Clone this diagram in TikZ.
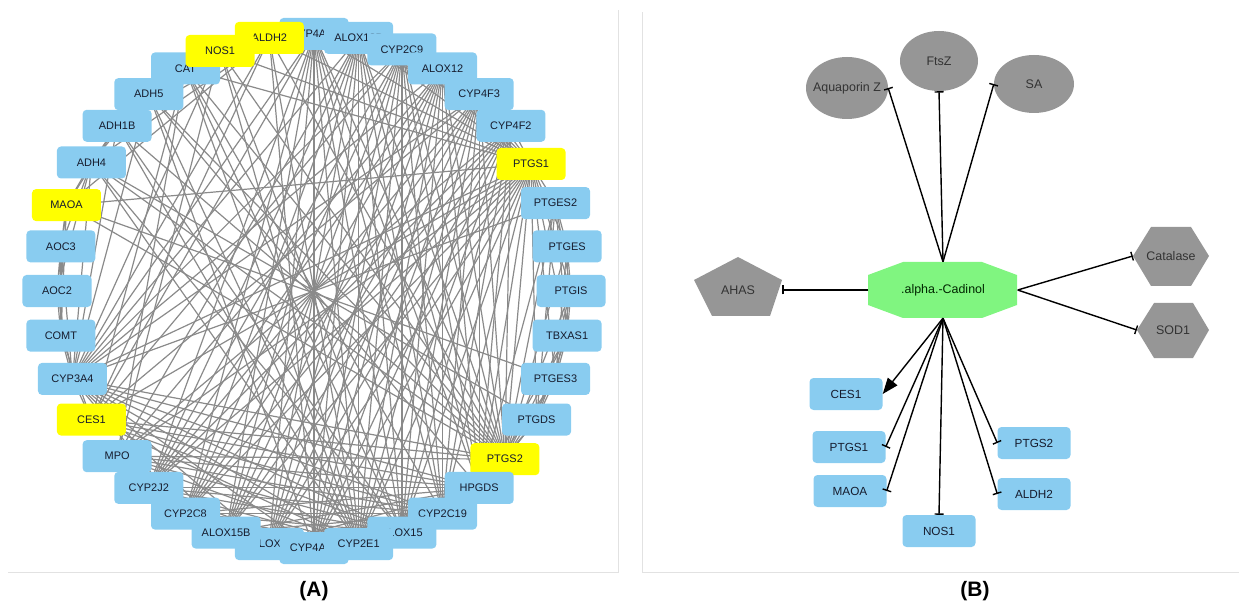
\documentclass[tikz,border=0pt]{standalone}
\usepackage{fontspec}
\setmainfont{Liberation Sans}
\setsansfont{Liberation Sans}
\usetikzlibrary{arrows.meta,backgrounds}
\definecolor{nodeblue}{RGB}{137,204,240}
\definecolor{nodeyellow}{RGB}{255,255,0}
\definecolor{edgegrey}{RGB}{138,138,138}
\definecolor{shapegrey}{RGB}{150,150,150}
\definecolor{cadgreen}{RGB}{128,245,128}
\definecolor{framegrey}{RGB}{226,226,226}
\definecolor{labtext}{RGB}{22,28,46}
\tikzset{
  gbox/.style={rectangle, rounded corners=4bp, fill=nodeblue, minimum width=69bp, minimum height=32bp, inner sep=0pt, text=labtext, font=\fontsize{11}{13}\selectfont},
  ybox/.style={gbox, fill=nodeyellow},
  bbox/.style={rectangle, rounded corners=4bp, fill=nodeblue, minimum width=73bp, minimum height=32bp, inner sep=0pt, text=labtext, font=\fontsize{11.8}{14}\selectfont},
  shapetext/.style={rectangle, inner sep=0pt, text=black!80, font=\fontsize{12.5}{15}\selectfont},
  edgeA/.style={draw=edgegrey, line width=1.2bp},
  inh/.style={draw=black, line width=1.4bp, -{Bar[width=9bp,line width=1.4bp]}},
  act/.style={draw=black, line width=1.4bp, -{Triangle[length=16bp,width=12bp]}},
  frameline/.style={draw=framegrey, line width=1bp},
  panellab/.style={font=\bfseries\fontsize{21}{24}\selectfont, inner sep=0pt}
}
\begin{document}
\begin{tikzpicture}[x=1bp,y=-1bp]
\useasboundingbox (0,0) rectangle (1239,603);

% panel frames
\draw[frameline] (8,572) -- (618,572) -- (618,10);
\draw[frameline] (642,12) -- (642,572) -- (1239,572);

% ---------- Panel A : nodes on the circle ----------
\foreach \k/\lab/\sty/\dx/\dy in {
  0/CYP4A11/gbox/0/0, 1/ALOX12B/gbox/0/0, 2/CYP2C9/gbox/0/0, 3/ALOX12/gbox/0/0,
  4/CYP4F3/gbox/0/0, 5/CYP4F2/gbox/0/0, 6/PTGS1/ybox/-5.5/1.5, 7/PTGES2/gbox/0/0,
  8/PTGES/gbox/0/0, 9/PTGIS/gbox/0/0, 10/TBXAS1/gbox/0/0, 11/PTGES3/gbox/0/0,
  12/PTGDS/gbox/0/0, 13/PTGS2/ybox/-6/3, 14/HPGDS/gbox/0/0, 15/CYP2C19/gbox/0/0,
  16/ALOX15/gbox/0/0, 19/ALOX5/gbox/0/0, 18/CYP4A22/gbox/0/0, 17/CYP2E1/gbox/0/0,
  21/CYP2C8/gbox/0/0, 20/ALOX15B/gbox/0/0, 22/CYP2J2/gbox/0/0, 23/MPO/gbox/0/0,
  24/CES1/ybox/0/0, 25/CYP3A4/gbox/0/0, 26/COMT/gbox/0/0, 27/AOC2/gbox/0/0,
  28/AOC3/gbox/0/0, 29/MAOA/ybox/-6/2, 30/ADH4/gbox/0/0, 31/ADH1B/gbox/0/0,
  32/ADH5/gbox/0/0, 33/CAT/gbox/0/0, 35/ALDH2/ybox/0/0, 34/NOS1/ybox/-6/1.5}
{
  \node[\sty] (a\k) at ({314+257*cos(90-10*\k)+\dx}, {291-257*sin(90-10*\k)+\dy}) {\lab};
}

% ---------- Panel A : edges (behind nodes) ----------
\begin{pgfonlayer}{background}
  \foreach \i in {0,...,5} {
    \foreach \j in {14,...,22} {
      \draw[edgeA] (a\i.center) -- (a\j.center);
    }
  }
  \foreach \i in {14,...,21} {
    \pgfmathtruncatemacro\nxt{\i+1}
    \foreach \j in {\nxt,...,22} {
      \draw[edgeA] (a\i.center) -- (a\j.center);
    }
  }
  \foreach \j in {7,...,25} {
    \draw[edgeA] (a6.center) -- (a\j.center);
  }
  \foreach \j in {0,1,2,3,4,5,7,8,9,10,11,12,23,24,25,29,30,31,32,33,34,35} {
    \draw[edgeA] (a13.center) -- (a\j.center);
  }
  \foreach \i/\j in {
    0/2, 1/3, 2/4, 3/5, 0/4, 1/5, 0/3, 2/5,
    0/6, 1/6, 2/6, 3/6, 4/6, 5/6, 6/29, 6/33, 6/34, 6/35,
    0/25, 1/25, 2/25, 3/25, 4/25, 5/23, 0/24, 2/24, 4/24, 1/23, 3/23,
    7/8, 7/9, 8/9, 8/10, 9/10, 9/11, 10/11, 10/12, 11/12, 12/14, 7/12, 11/14,
    7/10, 8/11, 9/12, 7/14, 10/14,
    30/31, 30/32, 31/32, 30/35, 31/35, 32/35, 29/35, 29/26, 29/27, 29/28,
    28/27, 27/26, 26/25, 28/26, 27/25, 30/29, 30/28, 30/27, 31/29, 24/25,
    24/26, 28/25,
    33/23, 33/17, 33/16, 33/15, 33/24,
    34/23, 34/17, 34/25, 34/16,
    35/17, 35/24, 35/25, 35/18,
    30/17, 31/17, 32/17, 30/25, 31/25, 32/25, 32/18, 31/16, 32/14, 30/16,
    23/16, 23/14, 23/15, 23/17,
    24/15, 24/16, 24/17, 24/14,
    25/14, 25/15, 25/16, 25/17, 25/18, 25/19, 25/20, 25/21,
    7/25, 12/30, 11/29}
  {
    \draw[edgeA] (a\i.center) -- (a\j.center);
  }
\end{pgfonlayer}

% ---------- Panel B : shapes ----------
\fill[shapegrey] (847,88) ellipse [x radius=41, y radius=31];
\fill[shapegrey] (939,61) ellipse [x radius=39, y radius=30];
\fill[shapegrey] (1034,84) ellipse [x radius=40, y radius=29];
\fill[shapegrey] (738,257) -- (782,280) -- (770,316) -- (712,316) -- (694,280) -- cycle;
\fill[shapegrey] (1133,256) -- (1151,227) -- (1191,227) -- (1209,256) -- (1191,286) -- (1151,286) -- cycle;
\fill[shapegrey] (1137,330) -- (1154,303) -- (1193,303) -- (1209,330) -- (1193,358) -- (1154,358) -- cycle;
\fill[cadgreen] (868,275) -- (903,262) -- (982,262) -- (1017,275) -- (1017,305) -- (982,318) -- (903,318) -- (868,305) -- cycle;

% ---------- Panel B : nodes ----------
\node[shapetext, minimum width=82bp, minimum height=62bp] (aqua) at (847,88) {Aquaporin Z};
\node[shapetext, minimum width=78bp, minimum height=60bp] (ftsz) at (939,61) {FtsZ};
\node[shapetext, minimum width=80bp, minimum height=58bp] (sa) at (1034,84) {SA};
\node[shapetext, minimum width=88bp, minimum height=58bp] (ahas) at (738,290) {AHAS};
\node[shapetext, minimum width=76bp, minimum height=59bp] (catl) at (1171,256) {Catalase};
\node[shapetext, minimum width=72bp, minimum height=55bp] (sod) at (1173,330) {SOD1};
\node[shapetext, minimum width=149bp, minimum height=56bp, text=black!85!green] (cad) at (943,290) {.alpha.-Cadinol};

\node[bbox] (bces) at (846,394) {CES1};
\node[bbox] (bp1) at (849,447) {PTGS1};
\node[bbox] (bmaoa) at (850,491) {MAOA};
\node[bbox] (bnos) at (939,531) {NOS1};
\node[bbox] (bp2) at (1034,443) {PTGS2};
\node[bbox] (baldh) at (1034,494) {ALDH2};

% ---------- Panel B : edges ----------
\draw[inh] (cad.north) -- (aqua.east);
\draw[inh] (cad.north) -- (ftsz.south);
\draw[inh] (cad.north) -- (sa.west);
\draw[inh] (cad.west) -- (ahas.east);
\draw[inh] (cad.east) -- (catl.west);
\draw[inh] (cad.east) -- (sod.west);
\draw[act] (cad.south) -- (bces.east);
\draw[inh] (cad.south) -- (bp1.east);
\draw[inh] (cad.south) -- (bmaoa.east);
\draw[inh] (cad.south) -- (bnos.north);
\draw[inh] (cad.south) -- (bp2.west);
\draw[inh] (cad.south) -- (baldh.west);

% ---------- panel labels ----------
\node[panellab] (labA) at (314,591) {(A)};
\node[panellab] (labB) at (975,591) {(B)};
\end{tikzpicture}
\end{document}
